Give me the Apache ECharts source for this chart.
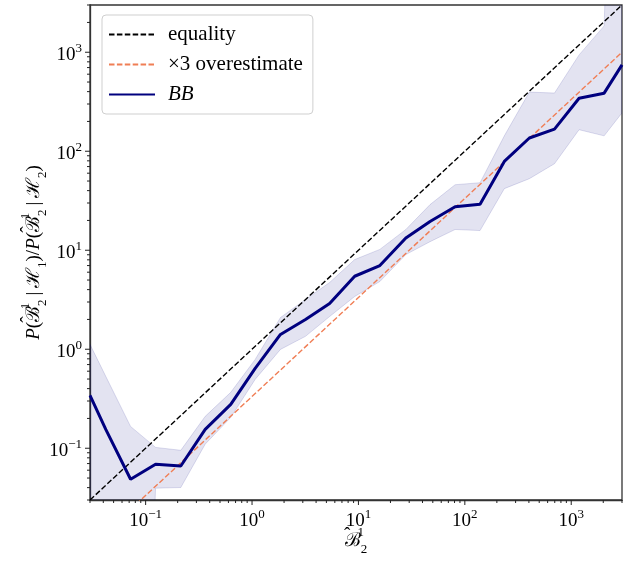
<!DOCTYPE html>
<html><head><meta charset="utf-8">
<script src="https://cdn.jsdelivr.net/npm/echarts@6/dist/echarts.min.js"></script>
<style>html,body{margin:0;padding:0;background:#fff}#c{width:639px;height:563px}</style>
</head><body><div id="c"></div><script>
// ---- data ----
const xVals     = [0.03,0.0422,0.0722,0.124,0.214,0.363,0.631,1.07,1.85,3.18,5.36,9.22,15.9,27.9,47.1,81.0,139,235,404,696,1185,2038,3000];
const bbVals    = [0.342,0.155,0.0486,0.0689,0.0662,0.155,0.277,0.640,1.41,2.00,2.90,5.46,7.00,13.3,19.5,27.5,29.2,78.9,136,167,343,386,745];
const upperVals = [1.12,0.532,0.166,0.102,0.0953,0.210,0.367,0.789,2.09,3.18,4.72,8.05,10.2,16.2,28.9,45.9,48.1,143,396,387,940,1845,1e9];
const lowerVals = [1e-8,1e-8,1e-8,0.0395,0.0401,0.110,0.205,0.496,0.996,1.35,2.14,3.41,4.83,9.04,12.2,16.2,15.8,41.9,52.8,74.8,165,143,244];
const eqX   = [0.03, 3000];
const eqY   = [0.03, 3000];
const overY = [0.01, 1000];
const majorTicks = [0.1, 1, 10, 100, 1000];
const minorTicks = [0.03,0.04,0.05,0.06,0.07,0.08,0.09,
  0.2,0.3,0.4,0.5,0.6,0.7,0.8,0.9, 2,3,4,5,6,7,8,9,
  20,30,40,50,60,70,80,90, 200,300,400,500,600,700,800,900, 2000,3000];
const legendNames = ['equality', '\u00d73 overestimate', 'BB'];

const SERIF = "'Liberation Serif','DejaVu Serif',serif";
const chart = echarts.init(document.getElementById('c'), null, {renderer:'canvas'});

function fmt(v) {
  const e = Math.log10(v), r = Math.round(e);
  if (Math.abs(e - r) > 1e-6) return '';
  return '{n|10}{s|' + (r < 0 ? '\u2212' + (-r) : r) + '}';
}
const labelRich = {
  n: {fontFamily: SERIF, fontSize: 19, lineHeight: 26, color: '#000'},
  s: {fontFamily: SERIF, fontSize: 13, lineHeight: 13, verticalAlign: 'top', color: '#000'}
};
const nameRich = {
  r: {fontFamily: SERIF, fontSize: 19, lineHeight: 30, color: '#000'},
  i: {fontFamily: SERIF, fontSize: 19, lineHeight: 30, fontStyle: 'italic', color: '#000'},
  h: {fontFamily: SERIF, fontSize: 19, lineHeight: 19, verticalAlign: 'top', width: 0, color: '#000'},
  p: {fontFamily: SERIF, fontSize: 13, lineHeight: 13, verticalAlign: 'top', width: 0, color: '#000'},
  b: {fontFamily: SERIF, fontSize: 13, lineHeight: 13, verticalAlign: 'bottom', color: '#000'}
};
const HB = '{h|\u2005\u02c6}{r|\u212c}{p|1}{b|2}';
const xName = HB;
const yName = '{i|P}{r|(}' + HB + '{r|\u2009|\u2009\u210b}{b|1}{r|)/}{i|P}{r|(}' + HB + '{r|\u2009|\u2009\u210b}{b|2}{r|)}';

function tickSeries(vals, axis, len) {
  return {
    type: 'custom', silent: true, clip: false, z: 6,
    data: vals.map(v => axis === 'x' ? [v, 1] : [1, v]),
    renderItem(params, api) {
      const cs = params.coordSys;
      const p = api.coord([api.value(0), api.value(1)]);
      let shape;
      if (axis === 'x') {
        const yb = cs.y + cs.height;
        shape = {x1: p[0], y1: yb, x2: p[0], y2: yb + len};
      } else {
        shape = {x1: cs.x, y1: p[1], x2: cs.x - len, y2: p[1]};
      }
      return {type: 'line', shape, style: {stroke: '#222', lineWidth: 1}};
    }
  };
}

const axisCommon = {
  type: 'log', logBase: 10, min: 0.03, max: 3000,
  splitLine: {show: false}, minorTick: {show: false}, minorSplitLine: {show: false},
  axisTick: {show: false},
  axisLine: {show: true, lineStyle: {color: '#333', width: 1.3}},
  nameLocation: 'middle', nameMoveOverlap: false
};

chart.setOption({
  animation: false,
  backgroundColor: '#fff',
  grid: {left: 90, right: 17, top: 5, bottom: 63, containLabel: false, outerBoundsMode: 'none',
    show: true, borderColor: '#333', borderWidth: 1.3, backgroundColor: 'transparent'},
  xAxis: Object.assign({}, axisCommon, {
    axisLabel: {formatter: fmt, margin: 8, rich: labelRich, showMinLabel: false, showMaxLabel: false},
    name: xName, nameGap: 26, nameTextStyle: {rich: nameRich}}),
  yAxis: Object.assign({}, axisCommon, {
    axisLabel: {formatter: fmt, margin: 8, rich: labelRich, padding: [5, 0, 0, 0], showMinLabel: false, showMaxLabel: false},
    name: yName, nameGap: 41, nameRotate: 90, nameTextStyle: {rich: nameRich}}),
  legend: {
    data: legendNames, orient: 'vertical', left: 102, top: 15,
    itemWidth: 46, itemHeight: 14, itemGap: 9,
    padding: [9, 10, 9, 6],
    itemStyle: {opacity: 0},
    backgroundColor: 'rgba(255,255,255,0.85)', borderColor: '#cfcfcf', borderWidth: 1, borderRadius: 4,
    textStyle: {fontFamily: SERIF, fontSize: 21, lineHeight: 21, color: '#000', padding: [0, 0, 0, 8],
      rich: {it: {fontFamily: SERIF, fontSize: 21, fontStyle: 'italic', color: '#000'}}},
    formatter: n => n === 'BB' ? '{it|BB}' : n
  },
  series: [
    {
      type: 'custom', silent: true, clip: true, z: 1,
      data: xVals.map((x, i) => [x, bbVals[i]]),
      renderItem(params, api) {
        if (params.dataIndex !== 0) return null;
        const pts = [];
        for (let i = 0; i < xVals.length; i++) pts.push(api.coord([xVals[i], upperVals[i]]));
        for (let i = xVals.length - 1; i >= 0; i--) pts.push(api.coord([xVals[i], lowerVals[i]]));
        return {type: 'polygon', shape: {points: pts},
          style: {fill: 'rgba(0,0,128,0.11)', stroke: 'rgba(0,0,128,0.13)', lineWidth: 1}};
      }
    },
    {
      name: legendNames[0], type: 'line', z: 2, symbol: 'none', showSymbol: false,
      data: eqX.map((x, i) => [x, eqY[i]]),
      lineStyle: {color: '#000', width: 1.4, type: [5.5, 2.4]}, itemStyle: {color: '#000'}
    },
    {
      name: legendNames[1], type: 'line', z: 3, symbol: 'none', showSymbol: false,
      data: eqX.map((x, i) => [x, overY[i]]),
      lineStyle: {color: '#f07e55', width: 1.4, type: [5.5, 2.4]}, itemStyle: {color: '#f07e55'}
    },
    {
      name: legendNames[2], type: 'line', z: 4, symbol: 'none', showSymbol: false,
      data: xVals.map((x, i) => [x, bbVals[i]]),
      lineStyle: {color: '#00007f', width: 3}, itemStyle: {color: '#00007f'}
    },
    tickSeries(majorTicks, 'x', 5),
    tickSeries(minorTicks, 'x', 3),
    tickSeries(majorTicks, 'y', 5),
    tickSeries(minorTicks, 'y', 3)
  ]
});
</script></body></html>
